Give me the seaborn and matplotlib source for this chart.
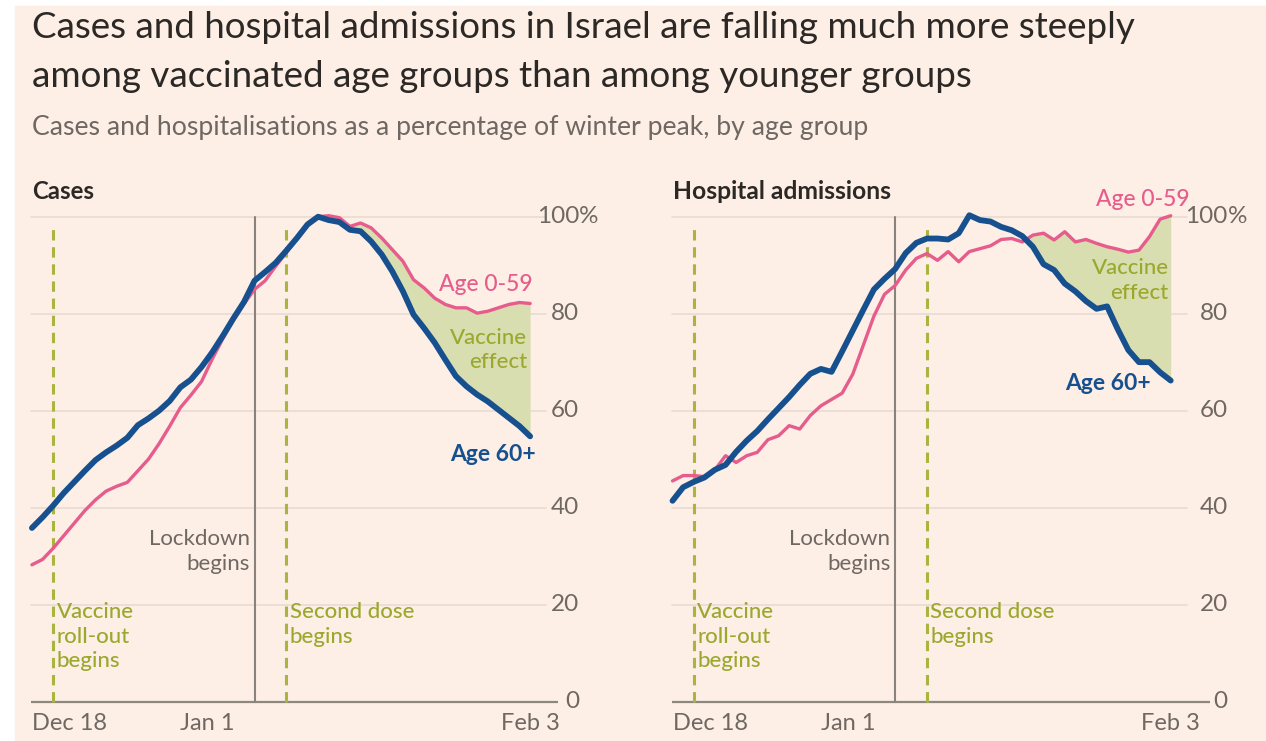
import numpy as np
import pandas as pd
import matplotlib
matplotlib.use("Agg")
import matplotlib.pyplot as plt
import matplotlib.dates as mdates
import matplotlib.transforms as mtransforms
import seaborn as sns

# ---------------- data ----------------
dates = pd.date_range("2020-12-18", "2021-02-03", freq="D")

cases_60_plus = [35.8, 38.0, 40.4, 43.0, 45.3, 47.6, 49.8, 51.4, 52.8, 54.4,
                 57.0, 58.4, 60.0, 62.0, 64.8, 66.4, 69.0, 72.0, 75.4, 79.0,
                 82.4, 86.8, 88.6, 90.5, 93.0, 95.6, 98.4, 100.0, 99.3, 98.9,
                 97.3, 97.0, 94.9, 92.2, 88.7, 84.6, 79.8, 77.0, 74.0, 70.5,
                 67.1, 65.0, 63.3, 61.9, 60.2, 58.5, 56.8, 54.7]
cases_0_59 = [28.2, 29.3, 31.6, 34.2, 36.8, 39.4, 41.6, 43.4, 44.4, 45.2,
              47.6, 50.0, 53.2, 56.8, 60.6, 63.2, 66.0, 70.6, 74.8, 78.6,
              82.0, 85.0, 86.8, 89.8, 92.6, 95.4, 98.2, 100.0, 100.2, 99.8,
              98.0, 98.7, 97.7, 95.6, 93.2, 90.8, 87.0, 85.3, 83.2, 81.9,
              81.2, 81.2, 80.1, 80.5, 81.2, 81.9, 82.3, 82.1]
hosp_60_plus = [41.4, 44.2, 45.3, 46.2, 47.8, 48.8, 51.5, 53.8, 55.8, 58.2,
                60.5, 62.8, 65.3, 67.6, 68.6, 68.0, 72.2, 76.5, 80.8, 85.0,
                87.2, 89.2, 92.5, 94.6, 95.5, 95.5, 95.3, 96.6, 100.3, 99.3,
                99.0, 97.9, 97.2, 96.0, 93.8, 90.2, 89.0, 86.2, 84.6, 82.6,
                81.0, 81.5, 76.8, 72.5, 70.0, 70.0, 67.9, 66.2]
hosp_0_59 = [45.5, 46.6, 46.6, 46.4, 47.8, 50.7, 49.3, 50.7, 51.4, 54.0,
             54.8, 56.9, 56.2, 59.0, 61.0, 62.3, 63.6, 67.5, 73.5, 79.5,
             84.0, 85.8, 89.0, 91.4, 92.4, 91.0, 92.8, 90.7, 92.8, 93.4,
             94.0, 95.3, 95.5, 94.8, 96.2, 96.6, 95.2, 96.9, 94.8, 95.3,
             94.5, 93.8, 93.3, 92.7, 93.1, 95.9, 99.5, 100.2]

vaccine_rollout = pd.Timestamp("2020-12-20")
lockdown = pd.Timestamp("2021-01-08")
second_dose = pd.Timestamp("2021-01-11")
fill_start = pd.Timestamp("2021-01-14")

x_ticks = [pd.Timestamp("2020-12-18"), pd.Timestamp("2021-01-01"), pd.Timestamp("2021-02-03")]
x_tick_labels = ["Dec 18", "Jan 1", "Feb 3"]
y_ticks = [0, 20, 40, 60, 80, 100]
y_tick_labels = ["0", "20", "40", "60", "80", "100"]

title_l1 = "Cases and hospital admissions in Israel are falling much more steeply"
title_l2 = "among vaccinated age groups than among younger groups"
subtitle = "Cases and hospitalisations as a percentage of winter peak, by age group"

# ---------------- style ----------------
W, H = 1266, 741
BG = "#FDEFE5"
BLUE = "#17508F"
PINK = "#E65C8C"
OLIVE = "#9BA82E"
OLIVE_LINE = "#A9B53E"
FILL = "#D9DEB0"
GREY_TXT = "#6F6862"
GRID = "#E8DCD2"
AXIS = "#8E8780"
DARK = "#2B2826"

sns.set_theme(style="white")
plt.rcParams["font.family"] = ["Lato", "DejaVu Sans"]

fig = plt.figure(figsize=(W / 100, H / 100), dpi=100, facecolor="white")
fig.patches.append(plt.Rectangle((15 / W, 0), 1 - 15 / W, 1 - 6 / H,
                                 transform=fig.transFigure, color=BG, zorder=-10))
renderer = fig.canvas.get_renderer()


def fit(t, width_px):
    w = t.get_window_extent(renderer).width
    t.set_fontsize(t.get_fontsize() * width_px / w)
    return t


def px(x, y):
    return x / W, 1 - y / H


day_w = 10.6
ax_w = 48.55 * day_w
y0, y100 = 701.5, 216.7

panels = [
    dict(left=31.4, name="Cases", name_w=62, blue=cases_60_plus, pink=cases_0_59,
         lab_pink=(42.8, 86.0), lab_blue=(43.5, 50.9), lab_eff=(46.75, 72.5),
         ylab_x=1.064, base_x=1.024),
    dict(left=672.0, name="Hospital admissions", name_w=218, blue=hosp_60_plus, pink=hosp_0_59,
         lab_pink=(44.4, 103.6), lab_blue=(41.1, 65.6), lab_eff=(46.8, 86.8),
         ylab_x=1.080, base_x=1.045),
]

for p in panels:
    ax = fig.add_axes([p["left"] / W, 1 - y0 / H, ax_w / W, (y0 - y100) / H])
    ax.set_facecolor("none")
    for s in ax.spines.values():
        s.set_visible(False)
    d0 = mdates.date2num(dates[0])
    ax.set_xlim(d0 - 0.05, d0 - 0.05 + 48.55)
    ax.set_ylim(0, 100)

    df = pd.DataFrame({"date": dates, "blue": p["blue"], "pink": p["pink"]})
    blue = np.array(p["blue"])
    pink = np.array(p["pink"])

    # gridlines
    for v in y_ticks[1:]:
        ax.axhline(v, color=GRID, lw=1.2, zorder=0)
    # baseline
    ax.plot([0, p["base_x"]], [0, 0], transform=ax.transAxes, color=AXIS, lw=1.6,
            clip_on=False, zorder=1, solid_capstyle="butt")

    # fill "vaccine effect"
    where = (pink > blue) & (df["date"] >= fill_start).values
    ax.fill_between(df["date"], blue, pink, where=where, interpolate=True,
                    color=FILL, lw=0, zorder=1)

    # event lines
    ax.plot([vaccine_rollout, vaccine_rollout], [0, 98.5], color=OLIVE_LINE, lw=2.2,
            ls=(0, (3.4, 2.2)), zorder=2)
    ax.plot([second_dose, second_dose], [0, 98.5], color=OLIVE_LINE, lw=2.2,
            ls=(0, (3.4, 2.2)), zorder=2)
    ax.plot([lockdown, lockdown], [0, 100], color="#8A827C", lw=1.5, zorder=2)

    # lines
    sns.lineplot(data=df, x="date", y="pink", ax=ax, color=PINK, lw=2.4, zorder=4)
    sns.lineplot(data=df, x="date", y="blue", ax=ax, color=BLUE, lw=4.2, zorder=5)
    for ln in ax.lines:
        ln.set_clip_on(False)
    ax.set_xlabel("")
    ax.set_ylabel("")

    # x ticks
    ax.set_xticks(x_ticks)
    ax.set_xticklabels(x_tick_labels)
    ax.tick_params(axis="x", direction="out", length=6, width=1.3, color=AXIS,
                   labelcolor=GREY_TXT, labelsize=17, pad=2)
    tl = ax.get_xticklabels()
    tl[0].set_ha("left"); tl[1].set_ha("left"); tl[2].set_ha("center")
    ax.set_yticks([])

    # y tick labels on right
    tr = mtransforms.blended_transform_factory(ax.transAxes, ax.transData)
    for v, lab in zip(y_ticks, y_tick_labels):
        ax.text(p["ylab_x"], v, lab, transform=tr, ha="right", va="center",
                fontsize=17.5, color=GREY_TXT)
    ax.text(p["ylab_x"], 100, "%", transform=tr, ha="left", va="center",
            fontsize=17.5, color=GREY_TXT)

    # annotations
    def dd(day):
        return mdates.date2num(dates[0]) + day

    ax.text(dd(p["lab_pink"][0]), p["lab_pink"][1], "Age 0-59", color=PINK,
            ha="center", va="center", fontsize=16.5, fontweight="medium")
    ax.text(dd(p["lab_blue"][0]), p["lab_blue"][1], "Age 60+", color=BLUE,
            ha="center", va="center", fontsize=16.5, fontweight="bold")
    ax.text(dd(p["lab_eff"][0]), p["lab_eff"][1], "Vaccine\neffect", color=OLIVE,
            ha="right", va="center", fontsize=16, fontweight="medium", linespacing=1.3)
    ax.annotate("Lockdown\nbegins", xy=(lockdown, 31.0), xytext=(-3.5, 0),
                textcoords="offset points", ha="right", va="center", color=GREY_TXT,
                fontsize=16, linespacing=1.3)
    ax.annotate("Vaccine\nroll-out\nbegins", xy=(vaccine_rollout, 13.4), xytext=(2.5, 0),
                textcoords="offset points", ha="left", va="center", color=OLIVE,
                fontsize=16, fontweight="medium", linespacing=1.3)
    ax.annotate("Second dose\nbegins", xy=(second_dose, 15.9), xytext=(2.5, 0),
                textcoords="offset points", ha="left", va="center", color=OLIVE,
                fontsize=16, fontweight="medium", linespacing=1.3)

    # panel title
    t = fig.text(*px(p["left"] + 1, 199), p["name"], ha="left", va="baseline",
                 fontsize=15, fontweight="bold", color=DARK)
    fit(t, p["name_w"])

# titles
t1 = fig.text(*px(32, 38), title_l1, ha="left", va="baseline", fontsize=23, color=DARK)
fit(t1, 1106)
t2 = fig.text(*px(32, 87), title_l2, ha="left", va="baseline", fontsize=t1.get_fontsize(), color=DARK)
t3 = fig.text(*px(32, 135), subtitle, ha="left", va="baseline", fontsize=16, color=GREY_TXT)
fit(t3, 841)

fig.savefig("out.png", dpi=100, facecolor=fig.get_facecolor())
